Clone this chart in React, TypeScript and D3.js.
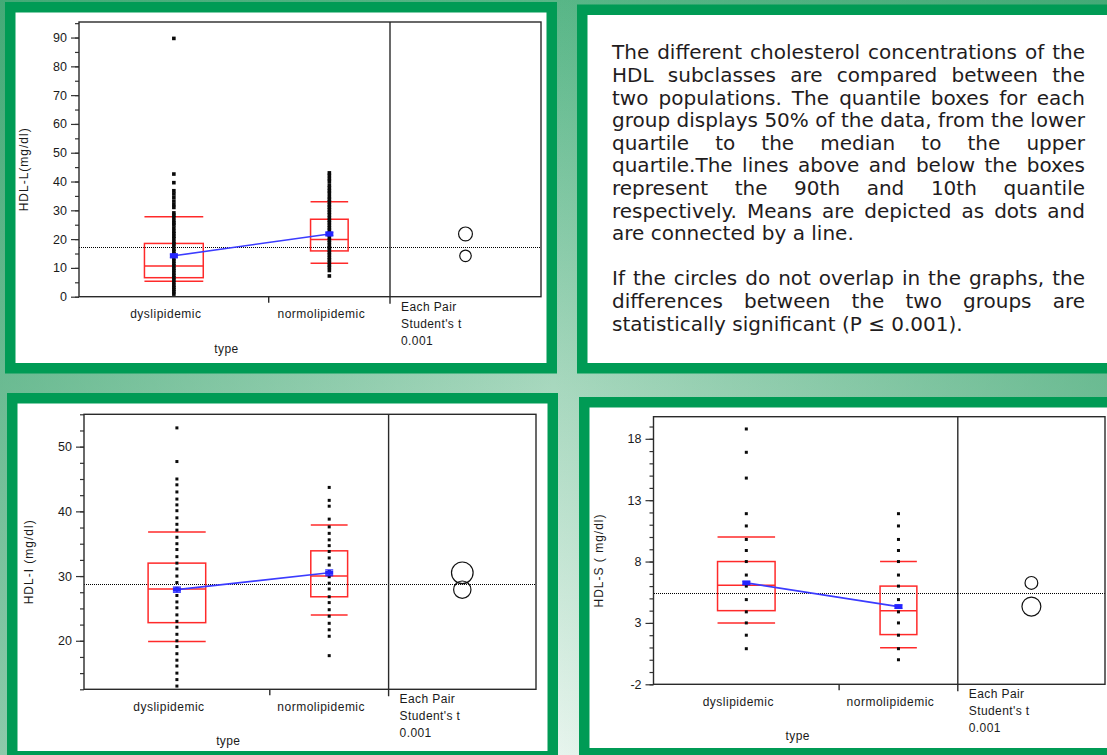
import { useEffect, useRef } from "react";
import * as d3 from "d3";

const W = 1107;
const H = 755;

const groups = ["dyslipidemic", "normolipidemic"];
const groupSizes = [61, 39];

// HDL-L (mg/dl)
const hdlLDys = [89.7, 42.6, 39.6, 36.8, 35.7, 34.5, 33.2, 32.0, 31.0, 29.1, 28.3, 27.5, 26.4, 25.6, 24.9, 23.8, 22.7, 21.9, 21.0, 20.2, 19.1, 18.4, 17.6, 16.5, 15.8, 14.9, 14.1, 13.2, 12.4, 11.5, 10.7, 9.8, 9.1, 8.2, 7.4, 6.6, 5.8, 4.9, 4.0, 3.2, 2.5, 1.7, 0.9];
const hdlLNormo = [43.0, 42.1, 41.0, 40.1, 38.8, 37.8, 36.8, 35.9, 34.7, 33.8, 32.9, 31.9, 31.1, 30.2, 29.3, 28.4, 27.4, 26.5, 25.7, 24.8, 23.9, 23.1, 22.2, 21.4, 20.5, 19.6, 18.8, 17.9, 17.0, 16.2, 15.3, 14.5, 13.6, 12.8, 11.9, 11.0, 10.2, 9.1, 7.2];
// p10, q1, median, q3, p90
const hdlLQuantiles = [[5.4, 6.6, 10.7, 18.5, 27.8], [11.6, 15.9, 19.9, 26.9, 33.0]];
const hdlLMeans = [14.2, 21.8];
const hdlLMeanErr = [0.7, 0.7];
const hdlLCircles = [2.0, 2.4];
const hdlLGrandMean = 17.2;
const hdlLTicks = [0, 10, 20, 30, 40, 50, 60, 70, 80, 90];

// HDL-I (mg/dl)
const hdlIDys = [52.9, 47.7, 45.0, 44.1, 43.0, 41.9, 41.0, 40.1, 39.0, 38.0, 37.1, 36.0, 35.0, 34.1, 33.0, 32.0, 31.1, 30.0, 29.0, 28.1, 27.0, 26.0, 25.1, 24.0, 23.0, 22.1, 21.0, 20.0, 19.1, 18.0, 17.0, 16.1, 15.0, 14.0, 13.0];
const hdlINormo = [43.7, 41.7, 40.8, 38.8, 37.6, 36.6, 35.6, 34.7, 33.8, 32.8, 31.7, 30.7, 29.9, 28.9, 28.0, 26.8, 25.9, 24.8, 23.8, 22.7, 21.7, 20.7, 17.7];
const hdlIQuantiles = [[19.9, 22.8, 28.0, 32.0, 36.8], [24.0, 26.8, 30.0, 33.9, 37.9]];
const hdlIMeans = [27.9, 30.5];
const hdlIMeanErr = [0.4, 0.45];
const hdlICircles = [1.34, 1.67];
const hdlIGrandMean = 28.8;
const hdlITicks = [20, 30, 40, 50];

// HDL-S (mg/dl)
const hdlSDys = [18.8, 16.9, 14.8, 11.9, 10.9, 9.8, 8.9, 8.0, 6.9, 6.0, 4.9, 3.9, 3.0, 2.0, 0.9];
const hdlSNormo = [11.9, 10.9, 9.8, 8.9, 8.0, 6.9, 6.0, 4.9, 3.9, 3.0, 2.0, 0.9, 0.0];
const hdlSQuantiles = [[3.0, 4.0, 6.07, 8.0, 10.0], [0.97, 2.05, 4.0, 6.0, 8.0]];
const hdlSMeans = [6.26, 4.33];
const hdlSMeanErr = [0.15, 0.15];
const hdlSCircles = [0.52, 0.77];
const hdlSGrandMean = 5.4;
const hdlSTicks = [-2, 3, 8, 13, 18];

const testLines = ["Each Pair", "Student's t", "0.001"];

const noteParagraphs = [
  [
    "The different cholesterol concentrations of the",
    "HDL subclasses are compared between the",
    "two populations. The quantile boxes for each",
    "group displays 50% of the data, from the lower",
    "quartile to the median to the upper",
    "quartile.The lines above and below the boxes",
    "represent the 90th and 10th quantile",
    "respectively. Means are depicted as dots and",
    "are connected by a line.",
  ],
  [
    "If the circles do not overlap in the graphs, the",
    "differences between the two groups are",
    "statistically significant (P \u2264 0.001).",
  ],
];

type Panel = {
  left: number;
  right: number;
  divider: number;
  top: number;
  bottom: number;
  domain: [number, number];
  ticks: number[];
  minorStep: number;
  title: string;
  dot: number;
  points: number[][];
  quantiles: number[][];
  means: number[];
  meanErr: number[];
  circles: number[];
  grandMean: number;
};

const FONT = "'Liberation Sans', Arial, sans-serif";
const GREEN = "#009b55";
const INK = "#1a1a1a";

export default function App() {
  const ref = useRef<SVGSVGElement | null>(null);

  useEffect(() => {
    const svg = d3.select(ref.current);
    svg.selectAll("*").remove();

    // background
    const defs = svg.append("defs");
    const gv = defs.append("linearGradient").attr("id", "bgV").attr("x1", 0).attr("y1", 0).attr("x2", 0).attr("y2", 1);
    gv.append("stop").attr("offset", "0%").attr("stop-color", "#58b687");
    gv.append("stop").attr("offset", "50%").attr("stop-color", "#a6d7bd");
    gv.append("stop").attr("offset", "100%").attr("stop-color", "#e8f5ee");
    const gh = defs.append("linearGradient").attr("id", "bgH").attr("x1", 0).attr("y1", 0).attr("x2", 1).attr("y2", 0);
    gh.append("stop").attr("offset", "0%").attr("stop-color", "#2e9e66").attr("stop-opacity", 0.5);
    gh.append("stop").attr("offset", "50%").attr("stop-color", "#2e9e66").attr("stop-opacity", 0);
    gh.append("stop").attr("offset", "100%").attr("stop-color", "#2e9e66").attr("stop-opacity", 0.5);
    svg.append("rect").attr("width", W).attr("height", H).attr("fill", "url(#bgV)");
    svg.append("rect").attr("width", W).attr("height", H).attr("fill", "url(#bgH)");

    // green framed cards
    const cards = [
      [5, 2, 552, 371.5],
      [577, 4.5, 545, 369],
      [7, 393, 551, 368.5],
      [579, 397, 545, 361.5],
    ];
    cards.forEach(([x, y, w, h]) => {
      svg.append("rect").attr("x", x).attr("y", y).attr("width", w).attr("height", h).attr("fill", GREEN);
      svg.append("rect").attr("x", x + 10.5).attr("y", y + 10.5).attr("width", w - 21).attr("height", h - 21).attr("fill", "#fff");
    });

    const panels: Panel[] = [
      {
        left: 79, right: 541, divider: 390, top: 22, bottom: 296.7,
        domain: [0, 95.4], ticks: hdlLTicks, minorStep: 5, title: "HDL-L(mg/dl)", dot: 3.6,
        points: [hdlLDys, hdlLNormo], quantiles: hdlLQuantiles, means: hdlLMeans,
        meanErr: hdlLMeanErr, circles: hdlLCircles, grandMean: hdlLGrandMean,
      },
      {
        left: 84, right: 536, divider: 388.6, top: 414.3, bottom: 689.3,
        domain: [12.5, 55], ticks: hdlITicks, minorStep: 2.5, title: "HDL-I (mg/dl)", dot: 3,
        points: [hdlIDys, hdlINormo], quantiles: hdlIQuantiles, means: hdlIMeans,
        meanErr: hdlIMeanErr, circles: hdlICircles, grandMean: hdlIGrandMean,
      },
      {
        left: 653.5, right: 1105, divider: 957.8, top: 416.7, bottom: 684.3,
        domain: [-2, 19.8], ticks: hdlSTicks, minorStep: 1, title: "HDL-S ( mg/dl)", dot: 3,
        points: [hdlSDys, hdlSNormo], quantiles: hdlSQuantiles, means: hdlSMeans,
        meanErr: hdlSMeanErr, circles: hdlSCircles, grandMean: hdlSGrandMean,
      },
    ];

    panels.forEach((p) => {
      const g = svg.append("g");
      const total = d3.sum(groupSizes);
      const ends = d3.cumsum(groupSizes);
      const x = d3.scaleLinear().domain([0, total]).range([p.left, p.divider]);
      const y = d3.scaleLinear().domain(p.domain).range([p.bottom, p.top]);
      const centers = groupSizes.map((n, i) => x(ends[i] - n / 2));
      const boxW = groupSizes.map((n) => (x(n) - x(0)) * 0.31);

      // y axis
      const minorVals = d3.range(p.domain[0], p.domain[1] + 1e-6, p.minorStep);
      const minor = g.append("g").attr("transform", `translate(${p.left},0)`)
        .call(d3.axisLeft(y).tickValues(minorVals).tickSize(4).tickFormat(() => ""));
      minor.select(".domain").remove();
      minor.selectAll("line").attr("stroke", "#333").attr("stroke-width", 1.2);
      const axis = g.append("g").attr("transform", `translate(${p.left},0)`)
        .call(d3.axisLeft(y).tickValues(p.ticks).tickSize(8).tickPadding(4).tickFormat((d) => String(d)));
      axis.select(".domain").remove();
      axis.selectAll("line").attr("stroke", "#333").attr("stroke-width", 1.2);
      axis.selectAll("text").attr("font-family", FONT).attr("font-size", 12.5).attr("fill", INK);

      g.append("text")
        .attr("transform", `translate(${p.left - 51},${(p.top + p.bottom) / 2 + 10}) rotate(-90)`)
        .attr("text-anchor", "middle").attr("font-family", FONT).attr("font-size", 12)
        .attr("letter-spacing", 1).attr("fill", INK).text(p.title);

      // grand mean, snapped to the pixel grid so the dots stay crisp
      const gy = Math.round(y(p.grandMean)) + 0.5;
      g.append("line").attr("x1", Math.round(p.left)).attr("x2", Math.round(p.right))
        .attr("y1", gy).attr("y2", gy)
        .attr("stroke", "#000").attr("stroke-width", 1).attr("stroke-dasharray", "1,1");

      // quantile boxes
      p.quantiles.forEach((q, i) => {
        const cx = centers[i];
        const bw = boxW[i];
        g.append("rect").attr("x", cx - bw / 2).attr("y", y(q[3])).attr("width", bw)
          .attr("height", y(q[1]) - y(q[3])).attr("fill", "none").attr("stroke", "#ff2a2a").attr("stroke-width", 1.5);
        [q[0], q[2], q[4]].forEach((v) => {
          g.append("line").attr("x1", cx - bw / 2).attr("x2", cx + bw / 2)
            .attr("y1", y(v)).attr("y2", y(v)).attr("stroke", "#ff2a2a").attr("stroke-width", 1.5);
        });
      });

      // points
      p.points.forEach((vals, i) => {
        g.selectAll(null).data(vals).join("rect")
          .attr("x", centers[i] - p.dot / 2).attr("y", (d) => y(d) - p.dot / 2)
          .attr("width", p.dot).attr("height", p.dot).attr("fill", "#0a0a0a");
      });

      // means
      const meanLine = d3.line<number>().x((_, i) => centers[i]).y((d) => y(d));
      g.append("path").datum(p.means).attr("d", meanLine).attr("fill", "none")
        .attr("stroke", "#3b3bff").attr("stroke-width", 1.6);
      p.means.forEach((m, i) => {
        const cx = centers[i];
        const e = p.meanErr[i];
        g.append("line").attr("x1", cx).attr("x2", cx).attr("y1", y(m - e)).attr("y2", y(m + e))
          .attr("stroke", "#2424ff").attr("stroke-width", 1.5);
        [m - e, m + e].forEach((v) => {
          g.append("line").attr("x1", cx - 4).attr("x2", cx + 4).attr("y1", y(v)).attr("y2", y(v))
            .attr("stroke", "#2424ff").attr("stroke-width", 1.2);
        });
        g.append("rect").attr("x", cx - 4).attr("y", y(m) - 2).attr("width", 8).attr("height", 4).attr("fill", "#2424ff");
      });

      // frame, divider, category tick
      g.append("rect").attr("x", p.left).attr("y", p.top).attr("width", p.right - p.left)
        .attr("height", p.bottom - p.top).attr("fill", "none").attr("stroke", "#2a2a2a").attr("stroke-width", 1.4);
      g.append("line").attr("x1", p.divider).attr("x2", p.divider).attr("y1", p.top).attr("y2", p.bottom + 7)
        .attr("stroke", "#2a2a2a").attr("stroke-width", 1.4);
      g.append("line").attr("x1", x(ends[0])).attr("x2", x(ends[0])).attr("y1", p.bottom).attr("y2", p.bottom + 6)
        .attr("stroke", "#2a2a2a").attr("stroke-width", 1.4);

      // comparison circles
      const cc = (p.divider + p.right) / 2;
      p.means.forEach((m, i) => {
        g.append("circle").attr("cx", cc).attr("cy", y(m)).attr("r", y(m - p.circles[i]) - y(m))
          .attr("fill", "none").attr("stroke", "#111").attr("stroke-width", 1.2);
      });

      // labels
      groups.forEach((name, i) => {
        g.append("text").attr("x", centers[i] - 8).attr("y", p.bottom + 21.5).attr("text-anchor", "middle")
          .attr("font-family", FONT).attr("font-size", 12).attr("letter-spacing", 0.5).attr("fill", INK).text(name);
      });
      g.append("text").attr("x", (p.left + p.divider) / 2 - 8).attr("y", p.bottom + 56).attr("text-anchor", "middle")
        .attr("font-family", FONT).attr("font-size", 12).attr("letter-spacing", 0.4).attr("fill", INK).text("type");
      testLines.forEach((t, i) => {
        g.append("text").attr("x", p.divider + 11).attr("y", p.bottom + 14 + i * 17)
          .attr("font-family", FONT).attr("font-size", 12).attr("letter-spacing", 0.4).attr("fill", INK).text(t);
      });
    });

    // explanatory note, justified
    const noteLeft = 612;
    const noteRight = 1085;
    const note = svg.append("g").attr("font-family", "'DejaVu Sans', sans-serif")
      .attr("font-size", 20).attr("fill", "#1f1c1d");
    let row = 0;
    noteParagraphs.forEach((para) => {
      para.forEach((line, li) => {
        const yb = 59.3 + row * 22.6;
        if (li === para.length - 1) {
          note.append("text").attr("x", noteLeft).attr("y", yb).text(line);
        } else {
          const words = line.split(" ");
          const nodes = words.map((w) => note.append("text").attr("y", yb).text(w));
          const widths = nodes.map((n) => (n.node() as SVGTextElement).getComputedTextLength());
          const gap = (noteRight - noteLeft - d3.sum(widths)) / (words.length - 1);
          let cx = noteLeft;
          nodes.forEach((n, i) => {
            n.attr("x", cx);
            cx += widths[i] + gap;
          });
        }
        row++;
      });
      row++;
    });
  }, []);

  return (
    <svg ref={ref} width={W} height={H} style={{ position: "absolute", left: 0, top: 0, display: "block" }} />
  );
}
